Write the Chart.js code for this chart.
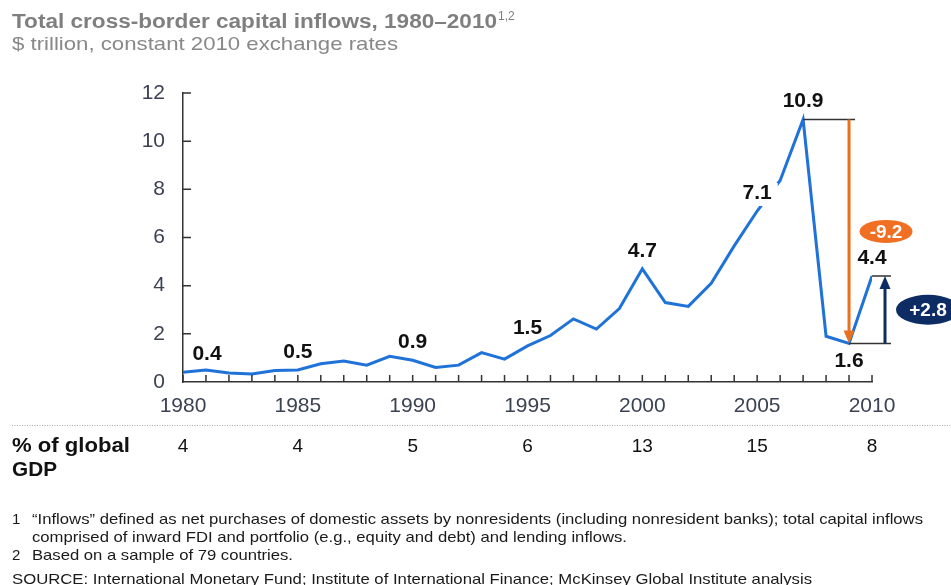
<!DOCTYPE html>
<html>
<head>
<meta charset="utf-8">
<script src="https://cdn.jsdelivr.net/npm/chart.js@4.4.1/dist/chart.umd.min.js"></script>
<style>
  html, body { margin: 0; padding: 0; background: #fff; }
  canvas { display: block; }
</style>
</head>
<body>
<canvas id="inflows" width="951" height="585"></canvas>
<script>
const years = [1980, 1981, 1982, 1983, 1984, 1985, 1986, 1987, 1988, 1989,
               1990, 1991, 1992, 1993, 1994, 1995, 1996, 1997, 1998, 1999,
               2000, 2001, 2002, 2003, 2004, 2005, 2006, 2007, 2008, 2009, 2010];
const inflows = [0.4, 0.5, 0.37, 0.33, 0.48, 0.5, 0.76, 0.87, 0.7, 1.07,
                 0.9, 0.6, 0.7, 1.22, 0.95, 1.5, 1.93, 2.62, 2.2, 3.05,
                 4.7, 3.3, 3.14, 4.1, 5.65, 7.1, 8.37, 10.9, 1.9, 1.6, 4.4];
const yTicks = [0, 2, 4, 6, 8, 10, 12];
const xTickYears = [1980, 1985, 1990, 1995, 2000, 2005, 2010];
const gdpShare = [4, 4, 5, 6, 13, 15, 8];
const labelledYears = [1980, 1985, 1990, 1995, 2000, 2005, 2007, 2009, 2010];
const dropText = '-9.2';
const reboundText = '+2.8';

const FONT = '"Liberation Sans", Arial, Helvetica, sans-serif';
const BLUE = '#1f72d8';
const ORANGE = '#e8701e';
const NAVY = '#0c2c63';
const AXIS = '#333';

const valueAt = yr => inflows[years.indexOf(yr)];

// draw text squeezed/stretched horizontally to a given width
function fitText(ctx, text, x, y, width) {
  const w = ctx.measureText(text).width;
  ctx.save();
  ctx.translate(x, y);
  ctx.scale(width / w, 1);
  ctx.fillText(text, 0, 0);
  ctx.restore();
}

function arrowHead(ctx, x, tipY, dir) {
  // dir = 1 pointing down, -1 pointing up
  ctx.beginPath();
  ctx.moveTo(x, tipY);
  ctx.lineTo(x - 5.5, tipY - dir * 13);
  ctx.lineTo(x + 5.5, tipY - dir * 13);
  ctx.closePath();
  ctx.fill();
}

function pill(ctx, cx, cy, w, h, color, text) {
  ctx.fillStyle = color;
  ctx.beginPath();
  ctx.ellipse(cx, cy, w / 2, h / 2, 0, 0, Math.PI * 2);
  ctx.fill();
  ctx.fillStyle = '#fff';
  ctx.font = 'bold 19px ' + FONT;
  ctx.textAlign = 'center';
  ctx.textBaseline = 'middle';
  ctx.fillText(text, cx, cy + 1);
}

const decor = {
  id: 'decor',
  afterDatasetsDraw(chart) {
    const { ctx, chartArea: a, scales: { x, y } } = chart;
    ctx.save();

    // inward tick marks on both axes
    ctx.strokeStyle = AXIS;
    ctx.lineWidth = 1.5;
    ctx.beginPath();
    years.forEach(yr => {
      const px = x.getPixelForValue(yr);
      ctx.moveTo(px, a.bottom);
      ctx.lineTo(px, a.bottom - 7);
    });
    yTicks.forEach(v => {
      if (!v) return;
      const py = y.getPixelForValue(v);
      ctx.moveTo(a.left, py);
      ctx.lineTo(a.left + 8, py);
    });
    ctx.stroke();

    // value labels
    ctx.font = 'bold 21px ' + FONT;
    ctx.textAlign = 'center';
    ctx.textBaseline = 'middle';
    labelledYears.forEach(yr => {
      const v = valueAt(yr);
      const txt = v.toFixed(1);
      let px = x.getPixelForValue(yr);
      let py = y.getPixelForValue(v) - 18;
      if (yr === 1980) px += 24;
      if (yr === 2009) py += 36;
      if (yr === 2005) {
        const w = ctx.measureText(txt).width + 12;
        ctx.fillStyle = '#fff';
        ctx.fillRect(px - w / 2, py - 10, w, 23);
      }
      ctx.fillStyle = '#111';
      ctx.fillText(txt, px, py);
    });

    // peak-to-trough and rebound brackets
    const x07 = x.getPixelForValue(2007);
    const x09 = x.getPixelForValue(2009);
    const x10 = x.getPixelForValue(2010);
    const yPeak = y.getPixelForValue(valueAt(2007));
    const yLow = y.getPixelForValue(valueAt(2009));
    const yEnd = y.getPixelForValue(valueAt(2010));
    const xUp = x10 + 13;

    ctx.strokeStyle = AXIS;
    ctx.lineWidth = 1.5;
    ctx.beginPath();
    ctx.moveTo(x07, yPeak); ctx.lineTo(x09 + 6, yPeak);
    ctx.moveTo(x09, yLow); ctx.lineTo(xUp + 6, yLow);
    ctx.moveTo(x10, yEnd); ctx.lineTo(xUp + 6, yEnd);
    ctx.stroke();

    ctx.lineWidth = 3;
    ctx.strokeStyle = ORANGE;
    ctx.fillStyle = ORANGE;
    ctx.beginPath();
    ctx.moveTo(x09, yPeak);
    ctx.lineTo(x09, yLow - 12);
    ctx.stroke();
    arrowHead(ctx, x09, yLow, 1);

    ctx.strokeStyle = NAVY;
    ctx.fillStyle = NAVY;
    ctx.beginPath();
    ctx.moveTo(xUp, yLow);
    ctx.lineTo(xUp, yEnd + 12);
    ctx.stroke();
    arrowHead(ctx, xUp, yEnd, -1);

    pill(ctx, x09 + 37, (yPeak + yLow) / 2, 53, 23, '#f06f22', dropText);
    pill(ctx, x10 + 56, (yLow + yEnd) / 2, 64, 30, NAVY, reboundText);

    ctx.restore();
  },
  afterDraw(chart) {
    const { ctx, scales: { x } } = chart;
    ctx.save();
    ctx.textAlign = 'left';
    ctx.textBaseline = 'alphabetic';

    // heading
    ctx.fillStyle = '#7f7f7f';
    ctx.font = 'bold 20px ' + FONT;
    fitText(ctx, 'Total cross-border capital inflows, 1980\u20132010', 12, 28, 485);
    ctx.font = '12px ' + FONT;
    ctx.fillText('1,2', 498, 20);
    ctx.fillStyle = '#888';
    ctx.font = '19px ' + FONT;
    fitText(ctx, '$ trillion, constant 2010 exchange rates', 12, 50, 386);

    // dotted separator
    ctx.strokeStyle = '#aaa';
    ctx.lineWidth = 1;
    ctx.setLineDash([1, 1.5]);
    ctx.beginPath();
    ctx.moveTo(12, 425.5);
    ctx.lineTo(951, 425.5);
    ctx.stroke();
    ctx.setLineDash([]);

    // share of global GDP row
    ctx.fillStyle = '#111';
    ctx.font = 'bold 20px ' + FONT;
    fitText(ctx, '% of global', 12, 452, 118);
    fitText(ctx, 'GDP', 12, 476, 45);
    ctx.font = '19px ' + FONT;
    ctx.textAlign = 'center';
    xTickYears.forEach((yr, i) => {
      ctx.fillText(String(gdpShare[i]), x.getPixelForValue(yr), 452);
    });

    // notes
    ctx.textAlign = 'left';
    ctx.fillStyle = '#1a1a1a';
    ctx.font = '15px ' + FONT;
    ctx.fillText('1', 12, 524);
    fitText(ctx, '\u201cInflows\u201d defined as net purchases of domestic assets by nonresidents (including nonresident banks); total capital inflows', 32, 524, 891);
    fitText(ctx, 'comprised of inward FDI and portfolio (e.g., equity and debt) and lending inflows.', 32, 542, 595);
    ctx.fillText('2', 12, 560);
    fitText(ctx, 'Based on a sample of 79 countries.', 32, 560, 261);
    fitText(ctx, 'SOURCE: International Monetary Fund; Institute of International Finance; McKinsey Global Institute analysis', 12, 584, 800);

    ctx.restore();
  }
};

new Chart(document.getElementById('inflows'), {
  type: 'line',
  data: {
    datasets: [{
      data: years.map((yr, i) => ({ x: yr, y: inflows[i] })),
      borderColor: BLUE,
      borderWidth: 3,
      pointRadius: 0,
      tension: 0,
      fill: false
    }]
  },
  options: {
    responsive: false,
    animation: false,
    devicePixelRatio: 1,
    layout: { padding: { left: 133, right: 79, top: 93, bottom: 163 } },
    plugins: { legend: { display: false }, tooltip: { enabled: false } },
    scales: {
      x: {
        type: 'linear',
        min: 1980,
        max: 2010,
        afterFit: s => { s.height = 40; },
        afterBuildTicks: s => { s.ticks = xTickYears.map(v => ({ value: v })); },
        grid: { display: false, drawTicks: false },
        border: { display: true, color: AXIS, width: 1.5 },
        ticks: {
          padding: 12,
          color: '#3b4352',
          font: { family: FONT, size: 21 },
          callback: v => String(v)
        }
      },
      y: {
        min: 0,
        max: 12,
        afterFit: s => { s.width = 50; },
        afterBuildTicks: s => { s.ticks = yTicks.map(v => ({ value: v })); },
        grid: { display: false, drawTicks: false },
        border: { display: true, color: AXIS, width: 1.5 },
        ticks: {
          padding: 18,
          color: '#3b4352',
          font: { family: FONT, size: 21 }
        }
      }
    }
  },
  plugins: [decor]
});
</script>
</body>
</html>
